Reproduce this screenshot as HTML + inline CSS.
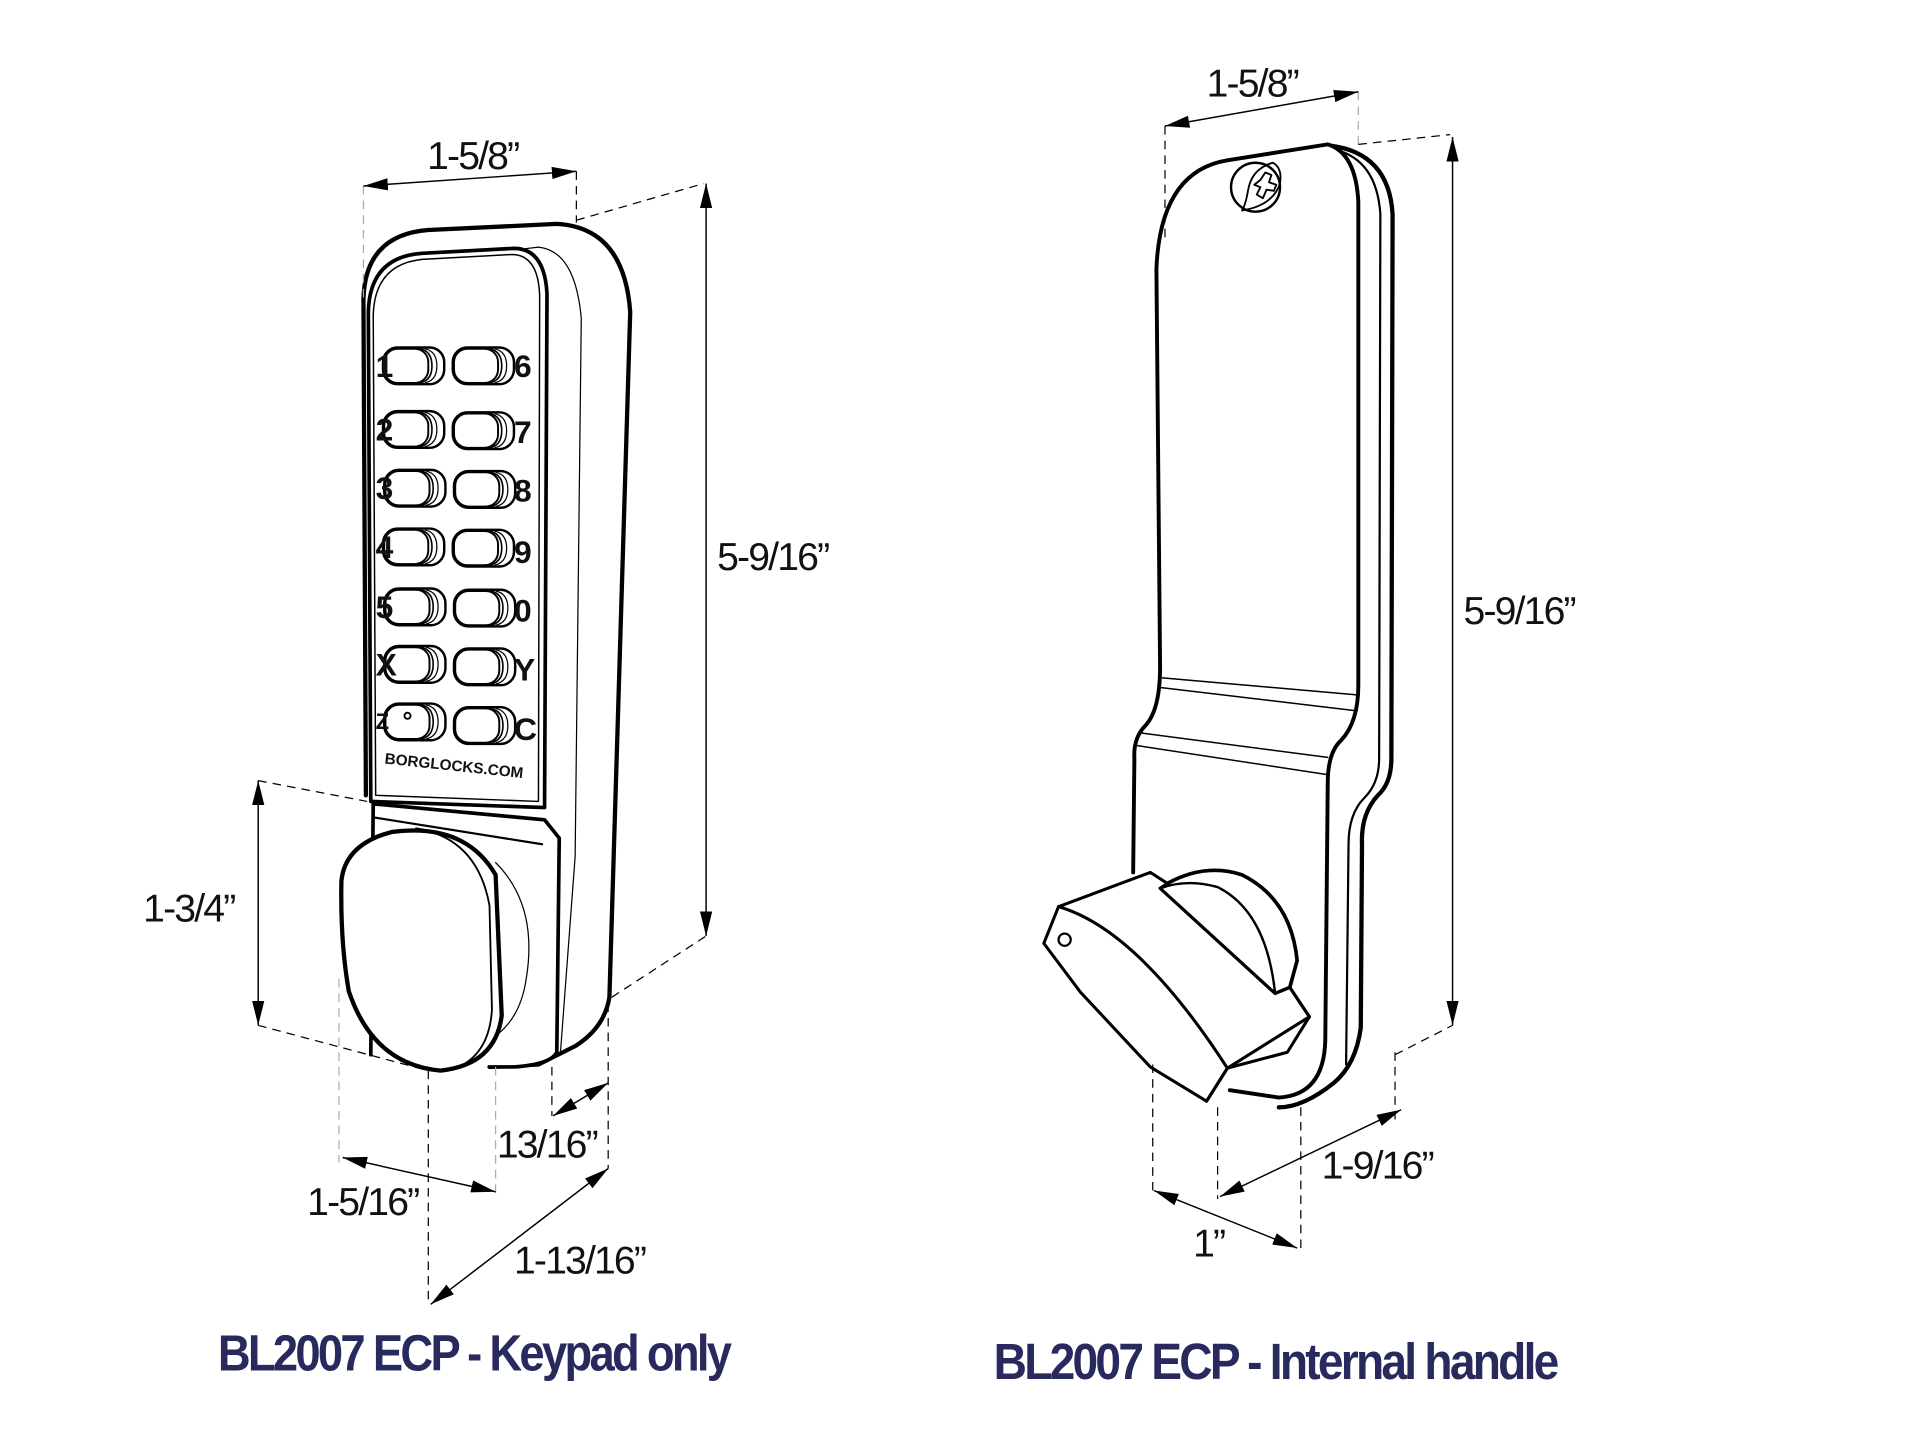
<!DOCTYPE html>
<html><head><meta charset="utf-8"><style>
html,body{margin:0;padding:0;background:#fff;}
svg{display:block;}
.t{font-family:"Liberation Sans",sans-serif;font-size:32px;fill:#111;letter-spacing:-1.5px;}
.k{font-family:"Liberation Sans",sans-serif;font-size:26px;font-weight:bold;fill:#111;}
.ti{font-family:"Liberation Sans",sans-serif;font-size:42px;font-weight:bold;fill:#282a5e;letter-spacing:-2.5px;}
</style></head><body>
<svg width="1909" height="1434" viewBox="0 0 1560 1172" preserveAspectRatio="none" xmlns="http://www.w3.org/2000/svg">
<defs>
<marker id="a" viewBox="0 0 20 10" refX="20" refY="5" markerWidth="20" markerHeight="10" markerUnits="userSpaceOnUse" orient="auto-start-reverse"><path d="M0,0 L20,5 L0,10 z" fill="#000"/></marker>
<g id="btn">
<rect x="0" y="0" width="50" height="30" rx="12" fill="#fff" stroke="#000" stroke-width="2"/>
<path d="M30,1 Q40,3 40,15 Q40,27 30,29" fill="none" stroke="#000" stroke-width="1.3"/>
<path d="M34,1 Q44,3 44,15 Q44,27 34,29" fill="none" stroke="#000" stroke-width="1"/>
<rect x="1" y="1" width="36" height="28" rx="11" fill="#fff" stroke="#000" stroke-width="1.6"/>
</g>
</defs>

<!-- ========== LEFT DEVICE ========== -->
<g fill="none" stroke="#000" stroke-linecap="round" stroke-linejoin="round">
<!-- outer body -->
<path d="M299,650 L297,245 Q298,192 350,188 L455,183 Q510,186 515,255 L498,815 Q494,840 470,855 L440,870 L400,872" fill="#fff" stroke-width="3.5"/>
<!-- thin side line -->
<path d="M415,205 L440,202 Q470,205 475,260 L470,700 L458,860" stroke-width="1"/>
<!-- keypad face -->
<path d="M303,655 L301,255 Q302,210 345,207 L420,203 Q445,203 447,240 L445,660 Z" fill="#fff" stroke-width="3"/>
<path d="M307,650 L305,258 Q306,216 345,212 L418,208 Q440,208 441,242 L440,655 Z" stroke-width="1.2"/>
<!-- lower section -->
<path d="M305,655 L303,862 M305,657 L445,670 L457,685 L455,860 Q450,870 420,872 L400,872" fill="#fff" stroke-width="3"/>
<path d="M305,668 L443,690" stroke-width="1.8"/>
<!-- cylinder behind knob -->
<path d="M405,705 Q440,740 430,800 Q425,835 400,850" stroke-width="1"/>
<!-- knob -->
<path d="M320,680 Q380,672 405,715 L410,830 Q405,870 360,875 Q305,870 285,810 Q278,770 279,720 Q282,690 320,680 Z" fill="#fff" stroke-width="3.5"/>
<path d="M340,677 Q390,685 400,740 L402,825 Q400,860 375,872" stroke-width="1.5"/>
</g>
<!-- buttons -->
<g>
<use href="#btn" x="313" y="284"/><use href="#btn" x="370" y="284"/>
<use href="#btn" x="313" y="336"/><use href="#btn" x="370" y="337"/>
<use href="#btn" x="314" y="384"/><use href="#btn" x="371" y="385"/>
<use href="#btn" x="313" y="432"/><use href="#btn" x="370" y="433"/>
<use href="#btn" x="314" y="481"/><use href="#btn" x="371" y="482"/>
<use href="#btn" x="314" y="528"/><use href="#btn" x="371" y="530"/>
<use href="#btn" x="314" y="575"/><use href="#btn" x="371" y="578"/>
</g>
<circle cx="333" cy="585" r="2.5" fill="none" stroke="#000" stroke-width="1.5"/>
<g class="k">
<text x="307" y="308">1</text><text x="307" y="360">2</text><text x="307" y="408">3</text><text x="307" y="456">4</text><text x="307" y="505">5</text><text x="307" y="552">X</text><text x="307" y="596" font-size="18">Z</text>
<text x="420" y="308">6</text><text x="420" y="362">7</text><text x="420" y="410">8</text><text x="420" y="460">9</text><text x="420" y="508">0</text><text x="420" y="556">Y</text><text x="420" y="605">C</text>
</g>
<text x="314" y="624" transform="rotate(6 314 624)" style="font-family:'Liberation Sans',sans-serif;font-size:12.5px;font-weight:bold;fill:#111;">BORGLOCKS.COM</text>

<!-- left dims -->
<g fill="none" stroke="#000" stroke-width="1" stroke-dasharray="7,5">
<path d="M297,152 L297,245" stroke="#aaa"/>
<path d="M471,140 L471,182"/>
<path d="M471,180 L575,150"/>
<path d="M500,815 L577,765"/>
<path d="M211,638 L300,655"/>
<path d="M211,838 L350,875"/>
<path d="M277,800 L277,950" stroke="#aaa"/>
<path d="M350,875 L350,1065"/>
<path d="M405,872 L405,975" stroke="#aaa"/>
<path d="M451,872 L451,912"/>
<path d="M497,820 L497,955"/>
</g>
<g stroke="#000" stroke-width="1.2" fill="none">
<path d="M297,152 L471,140" marker-start="url(#a)" marker-end="url(#a)"/>
<path d="M577,150 L577,765" marker-start="url(#a)" marker-end="url(#a)"/>
<path d="M211,638 L211,838" marker-start="url(#a)" marker-end="url(#a)"/>
<path d="M280,946 L405,974" marker-start="url(#a)" marker-end="url(#a)"/>
<path d="M452,912 L497,885" marker-start="url(#a)" marker-end="url(#a)"/>
<path d="M352,1066 L497,955" marker-start="url(#a)" marker-end="url(#a)"/>
</g>
<g class="t">
<text x="349" y="138">1-5/8”</text>
<text x="586" y="466">5-9/16”</text>
<text x="117" y="753">1-3/4”</text>
<text x="406" y="946">13/16”</text>
<text x="251" y="993">1-5/16”</text>
<text x="420" y="1041">1-13/16”</text>
</g>
<text class="ti" x="178" y="1120" textLength="418" lengthAdjust="spacingAndGlyphs">BL2007 ECP - Keypad only</text>

<!-- ========== RIGHT DEVICE ========== -->
<g fill="none" stroke="#000" stroke-linecap="round" stroke-linejoin="round">
<!-- outer side body -->
<path d="M1087,119 Q1135,125 1138,175 L1137,620 Q1137,640 1126,650 Q1112,665 1113,690 L1112,840 Q1108,870 1090,885 Q1065,905 1045,905" fill="#fff" stroke-width="3.5"/>
<path d="M1090,122 Q1125,130 1128,175 L1127,620 Q1127,640 1115,652 Q1102,665 1102,690 L1100,870" stroke-width="1.8"/>
<!-- plate -->
<path d="M948,545 L945,220 Q948,140 1003,131 L1085,118 Q1108,125 1110,165 L1110,560 Q1110,590 1096,605 Q1085,615 1085,640 L1083,850 Q1082,895 1045,897 L1005,891 M948,545 Q948,580 936,593 Q926,603 927,620 L926,713" fill="#fff" stroke-width="3.2"/>
<path d="M950,554 L1110,568 M949,562 L1109,581" stroke-width="1.2"/>
<path d="M932,599 L1085,619 M927,609 L1084,633" stroke-width="1.2"/>
<!-- screw -->
<circle cx="1026" cy="153" r="20" fill="#fff" stroke-width="2"/>
<path d="M1015,172 Q1040,168 1046,150 Q1048,137 1040,133 Q1023,138 1020,155 Q1018,167 1015,172" stroke-width="1.5"/>
<path d="M1030,147 L1034,141 L1039,143 L1037,149 L1043,151 L1041,156 L1035,155 L1032,162 L1027,159 L1030,153 L1025,151 Z" stroke-width="1.5"/>
<!-- knob disc -->
<path d="M954,722 Q985,705 1015,715 Q1055,735 1060,785 L1054,807 L1042,812" fill="#fff" stroke-width="3"/>
<path d="M948,726 Q970,718 995,725 Q1035,745 1042,812" stroke-width="2"/>
<!-- handle -->
<path d="M865,741 L940,713 L954,722 L948,726 L1042,812 L1054,807 L1070,831 L1052,860 L1003,873 L986,900 L940,872 L883,811 L853,771 Z" fill="#fff" stroke-width="2.5"/>
<path d="M948,726 L1042,812 L1054,807 L1070,831" stroke-width="2.5"/>
<path d="M865,741 Q930,760 1003,873 L1070,831" stroke-width="2.5"/>
<path d="M1003,873 L986,900" stroke-width="2.5"/>
<circle cx="870" cy="768" r="5" fill="#fff" stroke-width="1.8"/>
</g>

<!-- right dims -->
<g fill="none" stroke="#000" stroke-width="1" stroke-dasharray="7,5">
<path d="M952,103 L952,195"/>
<path d="M1110,75 L1110,118" stroke="#aaa"/>
<path d="M1110,118 L1185,110"/>
<path d="M1140,862 L1187,838"/>
<path d="M942,870 L942,975"/>
<path d="M995,905 L995,980"/>
<path d="M1063,905 L1063,1020"/>
<path d="M1140,860 L1140,915"/>
</g>
<g stroke="#000" stroke-width="1.2" fill="none">
<path d="M952,103 L1110,75" marker-start="url(#a)" marker-end="url(#a)"/>
<path d="M1187,112 L1187,838" marker-start="url(#a)" marker-end="url(#a)"/>
<path d="M997,978 L1145,907" marker-start="url(#a)" marker-end="url(#a)"/>
<path d="M943,973 L1060,1020" marker-start="url(#a)" marker-end="url(#a)"/>
</g>
<g class="t">
<text x="986" y="79">1-5/8”</text>
<text x="1196" y="510">5-9/16”</text>
<text x="1080" y="963">1-9/16”</text>
<text x="975" y="1027">1”</text>
</g>
<text class="ti" x="812" y="1127" textLength="460" lengthAdjust="spacingAndGlyphs">BL2007 ECP - Internal handle</text>
</svg>
</body></html>
